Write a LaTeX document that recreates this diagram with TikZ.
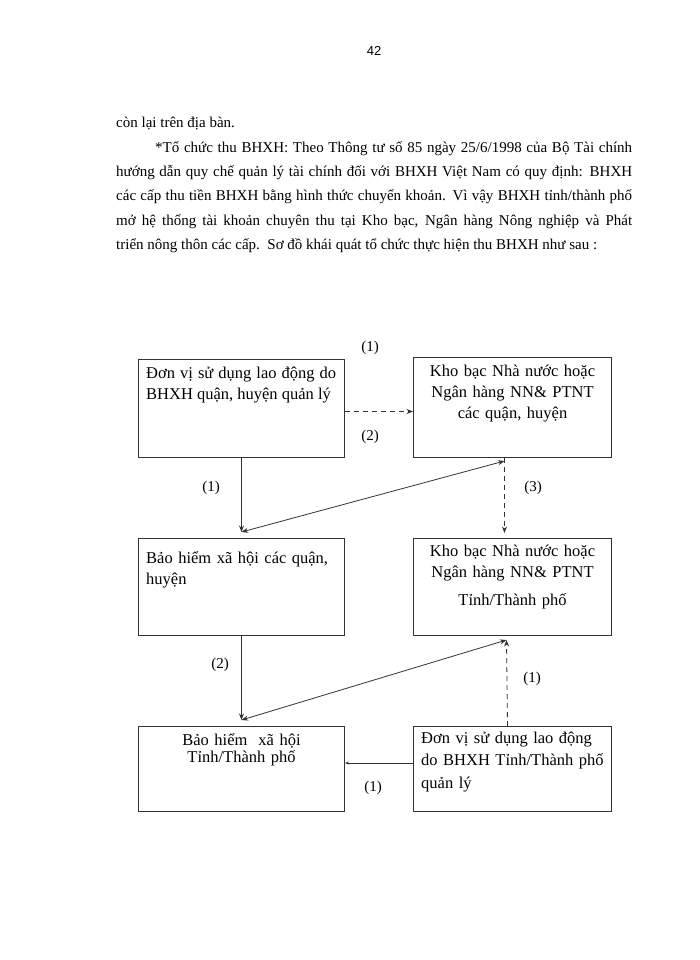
\documentclass[tikz,border=0pt]{standalone}
\usepackage{fontspec}
\setmainfont{Liberation Serif}
\newfontfamily\pagenumfont{Liberation Sans}
\usetikzlibrary{arrows.meta}

\begin{document}
\begin{tikzpicture}[x=1pt,y=-1pt,
    box/.style={draw=black!80,line width=1pt,rectangle,inner sep=0pt,anchor=north west,minimum width=206pt,minimum height=98pt},
    boxtext/.style={inner sep=0pt,anchor=base,font=\fontsize{16.5}{21}\selectfont},
    lbl/.style={inner sep=0pt,font=\fontsize{15}{18}\selectfont},
    arr/.style={draw=black!80,line width=0.8pt,-{Stealth[length=6.5pt,width=5pt]}},
    dblarr/.style={draw=black!80,line width=0.8pt,{Stealth[length=6.5pt,width=5pt]}-{Stealth[length=6.5pt,width=5pt]}},
    dasharr/.style={arr,dash pattern=on 5pt off 4pt}]

  \useasboundingbox[fill=white] (0,0) rectangle (700,960);

  % page number and text above the chart
  \node[inner sep=0pt,anchor=base,font=\pagenumfont\fontsize{13}{15}\selectfont] (pagenum) at (374,56) {42};
  \node[inner sep=0pt,anchor=base west,text width=516pt,align=justify,font=\fontsize{15}{24.3}\selectfont] (para) at (116,128)
    {còn lại trên địa bàn.\par
     \hspace*{39pt}*Tổ chức thu BHXH: Theo Thông tư số 85 ngày 25/6/1998 của Bộ Tài chính\linebreak
     hướng dẫn quy chế quản lý tài chính đối với BHXH Việt Nam có quy định: BHXH\linebreak
     các cấp thu tiền BHXH bằng hình thức chuyển khoản. Vì vậy BHXH tỉnh/thành phố\linebreak
     mở hệ thống tài khoản chuyên thu tại Kho bạc, Ngân hàng Nông nghiệp và Phát\linebreak
     triển nông thôn các cấp.\ \ Sơ đồ khái quát tổ chức thực hiện thu BHXH như sau :};

  % boxes
  \node[box] (qUnit) at (138,359) {};
  \node[box,minimum width=198pt,minimum height=100pt] (qBank) at (413,357) {};
  \node[box,minimum height=97pt] (qIns) at (138,538) {};
  \node[box,minimum width=198pt,minimum height=97pt] (tBank) at (413,538) {};
  \node[box,minimum height=85pt] (tIns) at (138,726) {};
  \node[box,minimum width=198pt,minimum height=85pt] (tUnit) at (413,726) {};

  % box texts
  \node[boxtext,anchor=base west,text width=190pt,align=justify] (qUnitText) at ([shift={(8,19)}]qUnit.north west)
    {Đơn vị sử dụng lao động do\linebreak BHXH quận, huyện quản lý};
  \node[boxtext,text width=198pt,align=center] (qBankText) at ([yshift=-19pt]qBank.north)
    {Kho bạc Nhà nước hoặc\\Ngân hàng NN\& PTNT\\các quận, huyện};
  \node[boxtext,anchor=base west,text width=195pt,align=left] (qInsText) at ([shift={(8,25)}]qIns.north west)
    {Bảo hiểm xã hội các quận,\\huyện};
  \node[boxtext,text width=198pt,align=center] (tBankText) at ([yshift=-18pt]tBank.north)
    {Kho bạc Nhà nước hoặc\\Ngân hàng NN\& PTNT\\[7pt]Tỉnh/Thành phố};
  \node[boxtext,text width=206pt,align=center,font=\fontsize{16.5}{17}\selectfont] (tInsText) at ([yshift=-19pt]tIns.north)
    {Bảo hiểm\ \ xã\ hội\\Tỉnh/Thành phố};
  \node[boxtext,anchor=base west,text width=190pt,align=left,font=\fontsize{16.5}{22.5}\selectfont] (tUnitText) at ([shift={(8,17)}]tUnit.north west)
    {Đơn vị sử dụng lao động\\do BHXH Tỉnh/Thành phố\\quản lý};

  % arrow ends
  \coordinate (qInsIn) at ([yshift=6pt]qIns.north);
  \coordinate (qBankOut) at ([xshift=-8pt,yshift=-3pt]qBank.south);
  \coordinate (tBankIn) at ([xshift=-8pt,yshift=5pt]tBank.north);
  \coordinate (tInsIn) at ([yshift=6pt]tIns.north);
  \coordinate (tBankOut) at ([xshift=-6pt,yshift=-4pt]tBank.south);

  % connectors
  \draw[dasharr] ([yshift=-3pt]qUnit.east) -- ([yshift=-3pt]qUnit.east -| qBank.west);
  \draw[arr] (qUnit.south) -- (qInsIn);
  \draw[dblarr] (qBankOut) -- (qInsIn);
  \draw[dasharr] ([xshift=-8pt]qBank.south) -- (tBankIn);
  \draw[arr] (qIns.south) -- (tInsIn);
  \draw[dblarr] (tInsIn) -- (tBankOut);
  \draw[dasharr] ([xshift=-5pt]tUnit.north) -- (tBankOut);
  \draw[draw=black!80,line width=0.8pt,-{Stealth[length=4pt,width=3pt]}] ([yshift=6pt]tUnit.west) -- ([yshift=6pt]tUnit.west -| tIns.east);

  % connector labels
  \node[lbl] (l1) at (370,348) {(1)};
  \node[lbl] (l2) at (370,437) {(2)};
  \node[lbl] (l3) at (211,488) {(1)};
  \node[lbl] (l4) at (533,488) {(3)};
  \node[lbl] (l5) at (220,665) {(2)};
  \node[lbl] (l6) at (532,679) {(1)};
  \node[lbl] (l7) at (373,788) {(1)};
\end{tikzpicture}
\end{document}
